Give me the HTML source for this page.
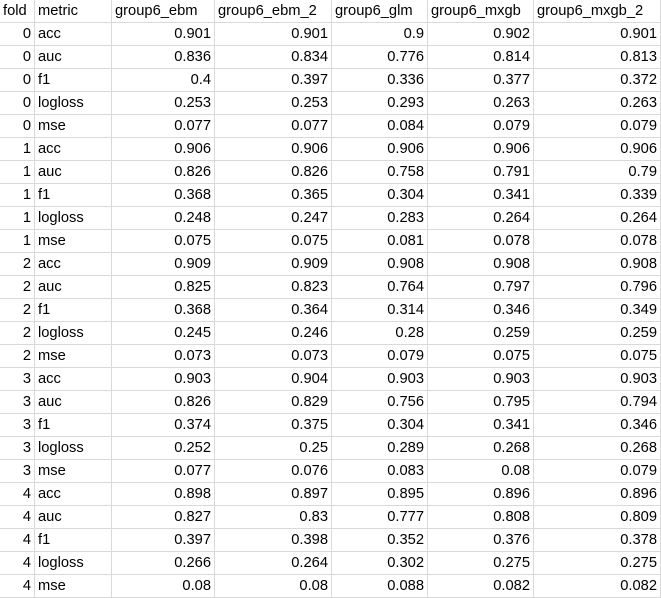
<!DOCTYPE html>
<html><head><meta charset="utf-8"><style>
body{margin:0;width:661px;height:595px;overflow:hidden;background:#fff;font-family:"Liberation Sans",sans-serif;font-size:14.7px;color:#000}
#t{position:relative;width:661px;height:595px}
.c{position:absolute;box-sizing:border-box;border-right:1px solid #d9d9d9;border-bottom:1px solid #d9d9d9;height:23px;line-height:22px;padding:0 3px;white-space:nowrap;overflow:hidden}
.r{text-align:right}
</style></head><body>
<div id="t"></div>
<script>
const headers=["fold","metric","group6_ebm","group6_ebm_2","group6_glm","group6_mxgb","group6_mxgb_2"];
const folds=[0,0,0,0,0,1,1,1,1,1,2,2,2,2,2,3,3,3,3,3,4,4,4,4,4];
const metrics=["acc","auc","f1","logloss","mse","acc","auc","f1","logloss","mse","acc","auc","f1","logloss","mse","acc","auc","f1","logloss","mse","acc","auc","f1","logloss","mse"];
const ebm=[0.901,0.836,0.4,0.253,0.077,0.906,0.826,0.368,0.248,0.075,0.909,0.825,0.368,0.245,0.073,0.903,0.826,0.374,0.252,0.077,0.898,0.827,0.397,0.266,0.08];
const ebm2=[0.901,0.834,0.397,0.253,0.077,0.906,0.826,0.365,0.247,0.075,0.909,0.823,0.364,0.246,0.073,0.904,0.829,0.375,0.25,0.076,0.897,0.83,0.398,0.264,0.08];
const glm=[0.9,0.776,0.336,0.293,0.084,0.906,0.758,0.304,0.283,0.081,0.908,0.764,0.314,0.28,0.079,0.903,0.756,0.304,0.289,0.083,0.895,0.777,0.352,0.302,0.088];
const mxgb=[0.902,0.814,0.377,0.263,0.079,0.906,0.791,0.341,0.264,0.078,0.908,0.797,0.346,0.259,0.075,0.903,0.795,0.341,0.268,0.08,0.896,0.808,0.376,0.275,0.082];
const mxgb2=[0.901,0.813,0.372,0.263,0.079,0.906,0.79,0.339,0.264,0.078,0.908,0.796,0.349,0.259,0.075,0.903,0.794,0.346,0.268,0.079,0.896,0.809,0.378,0.275,0.082];
const colX=[0,35,112,215,332,428,534,661];
const t=document.getElementById('t');
function cell(x0,x1,y,txt,right,name){
  const d=document.createElement('div');
  d.className='c'+(right?' r':'');
  d.style.left=x0+'px';d.style.top=y+'px';d.style.width=(x1-x0)+'px';
  d.textContent=txt;
  
  
  t.appendChild(d);
}
headers.forEach((h,i)=>cell(colX[i],colX[i+1],0,h,false,'header-'+h.replace(/_/g,'-')));
const cols=[folds,metrics,ebm,ebm2,glm,mxgb,mxgb2];
for(let r=0;r<folds.length;r++){
  cols.forEach((arr,i)=>cell(colX[i],colX[i+1],23*(r+1),String(arr[r]),i!==1,'cell-r'+r+'-'+headers[i].replace(/_/g,'-')));
}
</script>
</body></html>
